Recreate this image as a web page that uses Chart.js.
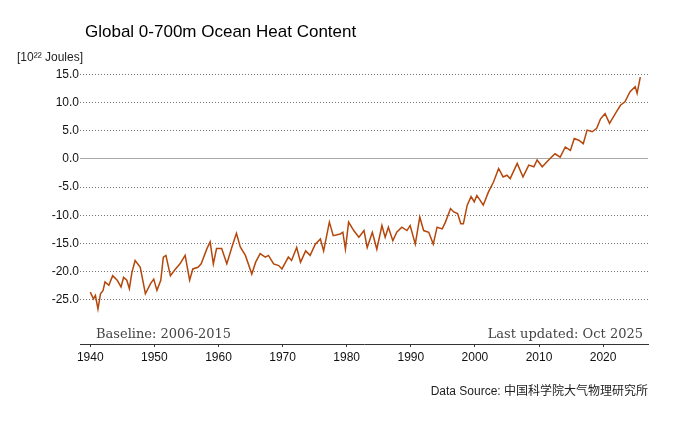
<!DOCTYPE html>
<html>
<head>
<meta charset="utf-8">
<script src="https://cdn.jsdelivr.net/npm/chart.js@4"></script>
<style>
  html, body { margin: 0; padding: 0; background: #fff; }
  #wrap { width: 680px; height: 421px; }
</style>
</head>
<body>
<div id="wrap"><canvas id="canvas"></canvas></div>
<script>
// years (decimal) and heat content anomaly [10^22 J]
const years = [
  1940.0, 1940.5, 1940.8, 1941.2, 1941.6, 1942.0, 1942.3, 1942.9, 1943.5, 1944.2,
  1944.8, 1945.2, 1945.7, 1946.1, 1946.5, 1947.0, 1947.8, 1948.6, 1949.4, 1949.9,
  1950.4, 1951.0, 1951.4, 1951.8, 1952.5, 1953.3, 1954.0, 1954.8, 1955.5, 1956.0,
  1956.8, 1957.3, 1958.2, 1958.7, 1959.2, 1959.7, 1960.5, 1961.3, 1962.1, 1962.8,
  1963.4, 1964.2, 1965.2, 1965.8, 1966.5, 1967.3, 1967.8, 1968.6, 1969.4, 1969.9,
  1970.9, 1971.4, 1972.2, 1972.8, 1973.6, 1974.3, 1975.1, 1975.9, 1976.4, 1977.3,
  1977.9, 1979.0, 1979.4, 1979.8, 1980.3, 1981.1, 1981.9, 1982.7, 1983.2, 1984.0,
  1984.7, 1985.5, 1986.0, 1986.5, 1987.2, 1987.8, 1988.6, 1989.4, 1989.9, 1990.7,
  1991.4, 1992.0, 1992.8, 1993.5, 1994.1, 1994.9, 1995.4, 1996.2, 1996.7, 1997.3,
  1997.8, 1998.2, 1998.8, 1999.4, 1999.9, 2000.3, 2000.8, 2001.3, 2002.1, 2002.9,
  2003.7, 2004.4, 2005.0, 2005.5, 2006.6, 2007.5, 2008.4, 2009.2, 2009.7, 2010.5,
  2011.5, 2012.5, 2013.3, 2014.1, 2014.9, 2015.5, 2016.2, 2016.9, 2017.5, 2018.3,
  2019.0, 2019.6, 2020.3, 2021.0, 2021.9, 2022.7, 2023.4, 2024.2, 2025.0, 2025.3,
  2025.8
]
const heat = [
  -23.6, -24.8, -24.2, -26.6, -23.9, -23.3, -21.8, -22.4, -20.7, -21.5,
  -22.7, -21.0, -21.5, -23.0, -20.1, -18.0, -19.2, -23.9, -22.1, -21.3,
  -23.3, -21.5, -17.4, -17.1, -20.7, -19.5, -18.6, -17.1, -21.5, -19.5,
  -19.2, -18.6, -15.9, -14.7, -18.6, -15.9, -15.9, -18.6, -15.6, -13.2,
  -15.6, -17.1, -20.4, -18.3, -16.8, -17.4, -17.1, -18.6, -18.9, -19.5,
  -17.4, -18.0, -15.7, -18.3, -16.3, -17.1, -15.1, -14.2, -16.3, -11.2,
  -13.6, -13.3, -13.0, -16.0, -11.2, -12.7, -13.9, -12.7, -15.7, -13.0,
  -16.0, -11.8, -13.9, -12.1, -14.5, -13.0, -12.1, -12.7, -11.8, -15.1,
  -10.3, -12.7, -13.0, -15.1, -12.1, -12.4, -11.2, -8.8, -9.4, -9.7,
  -11.5, -11.5, -8.2, -6.7, -7.6, -6.5, -7.3, -8.2, -5.9, -4.1,
  -1.7, -3.2, -2.9, -3.5, -0.8, -3.2, -1.1, -1.4, -0.2, -1.4,
  -0.2, 0.9, 0.3, 2.1, 1.5, 3.6, 3.3, 2.7, 5.1, 4.8,
  5.4, 7.1, 8.0, 6.3, 8.0, 9.5, 10.1, 11.9, 12.8, 11.6,
  14.5
]
const yTicks = [-25, -20, -15, -10, -5, 0, 5, 10, 15]
const xTicks = [1940, 1950, 1960, 1970, 1980, 1990, 2000, 2010, 2020]

const points = years.map((y, i) => ({ x: y, y: heat[i] }))

const textPlugin = {
    id: 'texts',
    afterDraw: chart => {
        const ctx = chart.ctx
        ctx.save()
        ctx.fillStyle = '#000'
        ctx.textBaseline = 'alphabetic'
        ctx.font = '17px "Liberation Sans", Arial, sans-serif'
        ctx.textAlign = 'left'
        ctx.fillText('Global 0-700m Ocean Heat Content', 85, 37)
        ctx.font = '12px "Liberation Sans", Arial, sans-serif'
        ctx.fillStyle = '#222'
        ctx.fillText('[10²² Joules]', 17, 61)
        ctx.fillStyle = '#444'
        ctx.font = '13px "DejaVu Serif", serif'
        ctx.fillText('Baseline: 2006-2015', 96, 338)
        ctx.textAlign = 'right'
        ctx.fillText('Last updated: Oct 2025', 643, 338)
        ctx.font = '12px "Liberation Sans", "Noto Sans CJK SC", sans-serif'
        ctx.fillStyle = '#222'
        ctx.fillText('Data Source: 中国科学院大气物理研究所', 648, 395)
        ctx.restore()
    }
}

const ctx = document.querySelector('#canvas').getContext('2d')
const myChart = new Chart(ctx, {
    type: 'line',
    data: {
        datasets: [{
            data: points,
            borderColor: '#b5470b',
            borderWidth: 1.5,
            pointRadius: 0,
            tension: 0
        }]
    },
    options: {
        responsive: true,
        maintainAspectRatio: false,
        animation: false,
        layout: { padding: { top: 68, right: 32, bottom: 47, left: 0 } },
        plugins: { legend: { display: false }, tooltip: { enabled: false } },
        scales: {
            x: {
                type: 'linear',
                min: 1938.4,
                max: 2027.0,
                afterBuildTicks: s => { s.ticks = xTicks.map(v => ({ value: v })) },
                afterFit: s => { s.height = 30 },
                border: { display: true, color: '#333', width: 1 },
                grid: { drawOnChartArea: false, drawTicks: true, tickLength: 3, color: '#333' },
                ticks: {
                    color: '#111',
                    font: { size: 12, family: '"Liberation Sans", Arial, sans-serif' },
                    padding: 3,
                    maxRotation: 0,
                    callback: v => String(v)
                }
            },
            y: {
                min: -32.8,
                max: 16.1,
                afterBuildTicks: s => { s.ticks = yTicks.map(v => ({ value: v })) },
                afterFit: s => { s.width = 80 },
                border: { display: false, dash: c => (c.tick && c.tick.value === 0 ? [] : [1, 2]) },
                grid: {
                    drawTicks: false,
                    color: c => c.tick && c.tick.value === 0 ? '#aaa' : '#777',
                    lineWidth: 1
                },
                ticks: {
                    color: '#111',
                    padding: 1,
                    font: { size: 12, family: '"Liberation Sans", Arial, sans-serif' },
                    callback: v => v.toFixed(1)
                }
            }
        }
    },
    plugins: [textPlugin]
})
</script>
</body>
</html>
